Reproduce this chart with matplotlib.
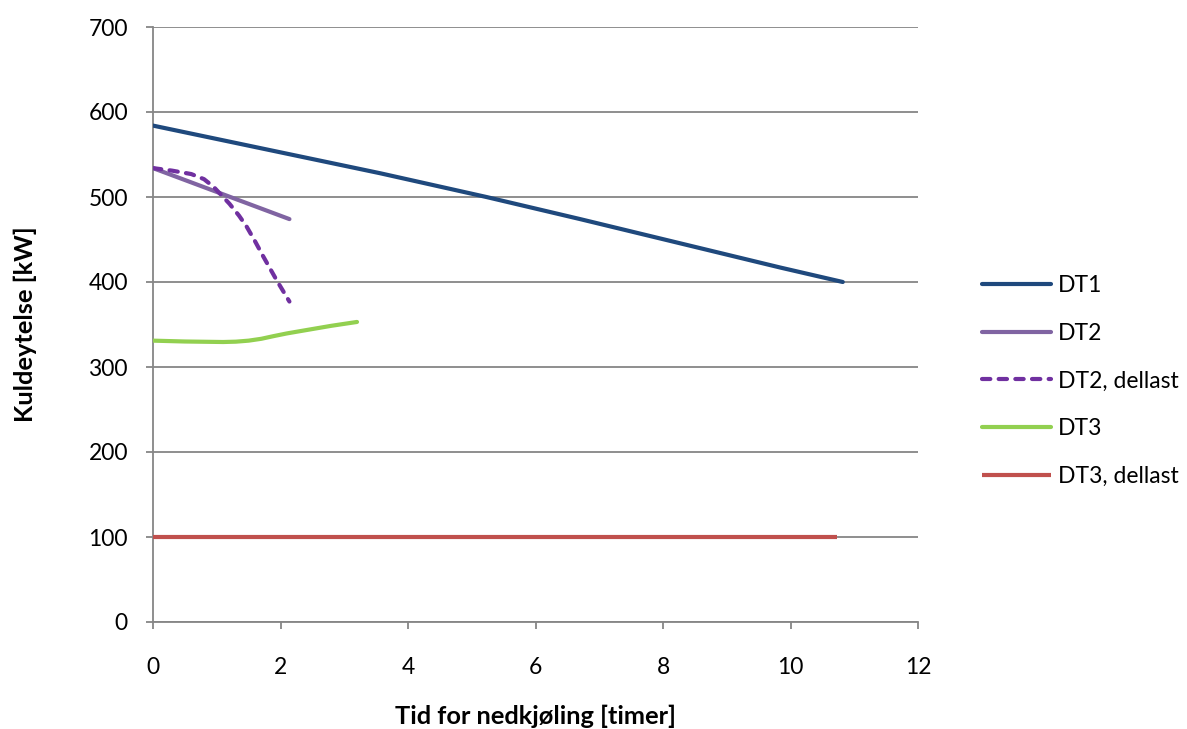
import matplotlib
matplotlib.use("Agg")
import matplotlib.pyplot as plt

# Cooling capacity over cool-down time for each tank
dt1_t = [0.0, 3.56, 5.23, 6.70, 9.84, 10.82]
dt1_p = [584, 528, 500, 474, 417, 400]

dt2_t = [0.0, 2.14]
dt2_p = [534, 474]

dt2_dl_t = [0.0, 0.3, 0.6, 0.8, 0.95, 1.05, 1.2, 1.35, 1.47, 1.6, 1.73, 1.94, 2.14]
dt2_dl_p = [534, 531, 527, 521, 512, 504, 492, 478, 465, 448, 430, 402, 377]

dt3_t = [0.0, 0.5, 1.1, 1.3, 1.5, 1.7, 1.89, 2.1, 2.41, 2.8, 3.2]
dt3_p = [331, 330, 329.4, 329.8, 331, 333.2, 336.3, 339.5, 343.5, 348.5, 353]

dt3_dl_t = [0.0, 10.73]
dt3_dl_p = [100, 100]

x_ticks = [0, 2, 4, 6, 8, 10, 12]
y_ticks = [0, 100, 200, 300, 400, 500, 600, 700]

plt.rcParams["font.family"] = ["Lato", "DejaVu Sans"]

fig = plt.figure(figsize=(11.87, 7.29), dpi=100)
ax = fig.add_axes([153 / 1187, 1 - 622 / 729, (918 - 153) / 1187, (622 - 27) / 729])

grid_c = "#868686"
lw = 3.0
ax.plot(dt1_t, dt1_p, color="#1F497D", lw=lw, solid_capstyle="round",
        solid_joinstyle="round", label="DT1", zorder=3)
ax.plot(dt2_t, dt2_p, color="#8064A2", lw=lw, solid_capstyle="round", label="DT2", zorder=3)
ax.plot(dt2_dl_t, dt2_dl_p, color="#7030A0", lw=lw, dashes=(2, 2),
        dash_capstyle="round", label="DT2, dellast", zorder=3)
ax.plot(dt3_t, dt3_p, color="#92D050", lw=lw, solid_capstyle="round",
        solid_joinstyle="round", label="DT3", zorder=3)
ax.plot(dt3_dl_t, dt3_dl_p, color="#C0504D", lw=lw, solid_capstyle="butt", label="DT3, dellast", zorder=3)

ax.set_xlim(0, 12)
ax.set_ylim(0, 700)
ax.set_xticks(x_ticks)
ax.set_yticks(y_ticks)
ax.yaxis.grid(True, color=grid_c, lw=1.3)
ax.set_axisbelow(True)

for s in ["top", "right"]:
    ax.spines[s].set_visible(False)
for s in ["left", "bottom"]:
    ax.spines[s].set_color(grid_c)
    ax.spines[s].set_linewidth(1.3)

ax.tick_params(axis="x", direction="out", length=5, width=1.3, color=grid_c,
               labelsize=16.5, pad=20)
ax.tick_params(axis="y", direction="out", length=5, width=1.3, color=grid_c,
               labelsize=16.5, pad=13)

ax.set_xlabel("Tid for nedkjøling [timer]", fontsize=18.3, fontweight="bold", va="center")
ax.set_ylabel("Kuldeytelse [kW]", fontsize=18.3, fontweight="bold", va="center")
ax.xaxis.set_label_coords(0.5, (622 - 716) / 595)
ax.yaxis.set_label_coords((25 - 153) / 765, (622 - 324) / 595)

leg = ax.legend(loc="center left", bbox_to_anchor=(982 / 1187, 1 - 381 / 729),
                bbox_transform=fig.transFigure, frameon=False, fontsize=16.5,
                handlelength=3.0, handletextpad=0.3, labelspacing=1.17,
                borderaxespad=0, borderpad=0)

fig.savefig("out.png", dpi=100)
